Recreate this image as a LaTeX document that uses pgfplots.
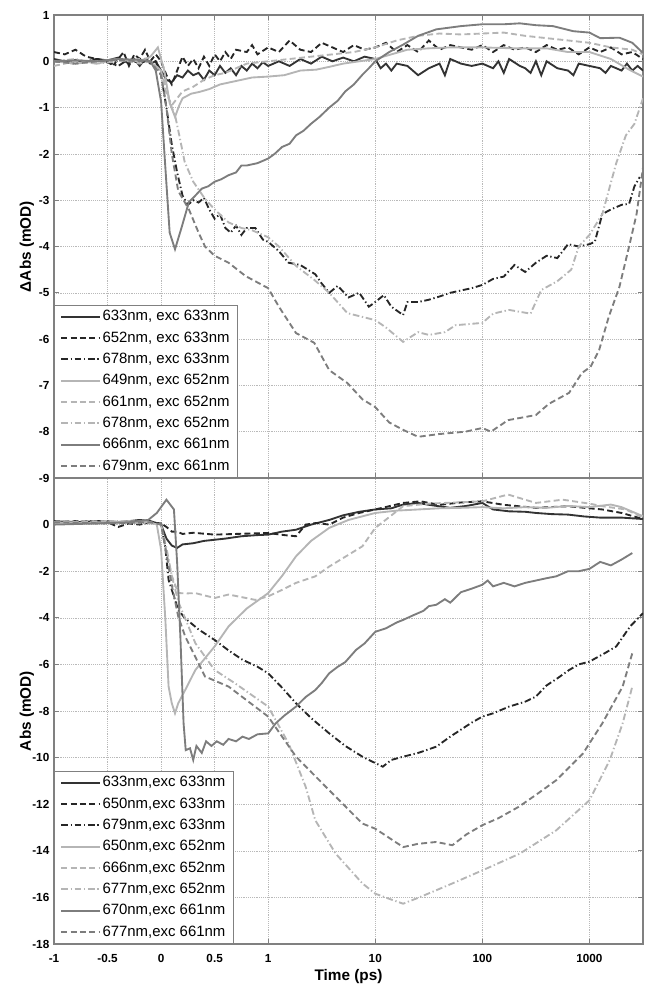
\documentclass[border=0pt]{standalone}
\usepackage{fontspec}
\setmainfont{Liberation Sans}
\usepackage{pgfplots}
\pgfplotsset{compat=1.18}

\definecolor{cDark}{HTML}{333333}
\definecolor{cDarkB}{HTML}{262626}
\definecolor{cLight}{HTML}{B5B5B5}
\definecolor{cMid}{HTML}{7D7D7D}
\definecolor{cFrame}{HTML}{808080}

\pgfplotsset{
  panel/.style={
    scale only axis, width=441.75pt,
    xmin=-1, xmax=4.5,
    xtick={-1,-0.5,0,0.5,1,2,3,4},
    axis line style={cFrame, line width=0.8pt},
    every tick/.style={cFrame, line width=0.6pt},
    major tick length=3.5pt,
    grid=major, major grid style={densely dotted, gray!55, line width=0.4pt},
    tick label style={font=\fontsize{8.8}{10}\selectfont\bfseries, text=black},
    xticklabel style={yshift=-4.5pt},
    label style={font=\fontsize{11.5}{13}\selectfont\bfseries},
    ylabel style={at={(axis description cs:-0.0458,0.5)}, anchor=center},
    legend style={at={(0,0)}, anchor=south west, draw=cFrame, line width=0.6pt,
      fill=white, font=\fontsize{11.2}{13}\selectfont, cells={anchor=west},
      row sep=2.6pt, inner xsep=4.5pt,
      /tikz/every even column/.append style={column sep=3.5pt},
      nodes={inner sep=1.2pt, text height=8.5pt, text depth=2.5pt}},
    legend image code/.code={\draw[#1] (0pt,0pt) -- (29pt,0pt);},
  },
  sD/.style={cDark, line width=1.4pt},
  dD/.style={cDarkB, line width=1.4pt, dash pattern=on 4.5pt off 2.5pt},
  ddD/.style={cDarkB, line width=1.4pt, dash pattern=on 5pt off 2pt on 1pt off 2pt},
  sL/.style={cLight, line width=1.4pt},
  dL/.style={cLight, line width=1.4pt, dash pattern=on 4.5pt off 2.5pt},
  ddL/.style={cLight, line width=1.4pt, dash pattern=on 5pt off 2pt on 1pt off 2pt},
  sM/.style={cMid, line width=1.4pt},
  dM/.style={cMid, line width=1.4pt, dash pattern=on 4.5pt off 2.5pt},
}

\begin{document}
\begin{tikzpicture}
\useasboundingbox (0,0) rectangle (483.75pt,-739.5pt);

% upper panel, x in "time" units: linear up to 1 ps, one unit per decade beyond
\begin{axis}[panel, at={(40.5pt,-11.25pt)}, anchor=north west, height=347.25pt,
    ymin=-9, ymax=1, ytick={-9,-8,-7,-6,-5,-4,-3,-2,-1,0,1},
    yticklabels={-9,-8,-7,-6,-5,-4,-3,-2,-1,0,1},
    xticklabels={}, ylabel={ΔAbs (mOD)}]
\addplot[sD] coordinates {(-1,0.05) (-0.9,0.0) (-0.8,0.03) (-0.7,-0.02) (-0.6,0.05) (-0.5,0.02) (-0.4,0.08) (-0.3,-0.05) (-0.25,0.05) (-0.2,-0.1) (-0.15,0.05) (-0.1,-0.05) (-0.05,0.0) (0,-0.2) (0.05,-0.4) (0.1,-0.45) (0.15,-0.3) (0.2,-0.35) (0.25,-0.2) (0.3,-0.3) (0.35,-0.25) (0.4,-0.4) (0.45,-0.2) (0.5,-0.3) (0.55,-0.1) (0.6,-0.25) (0.65,-0.15) (0.7,-0.3) (0.75,-0.1) (0.8,-0.2) (0.85,-0.05) (0.9,-0.15) (0.95,-0.02) (1,-0.1) (1.1,0.0) (1.2,-0.1) (1.3,0.05) (1.4,-0.05) (1.5,0.1) (1.6,0.0) (1.7,0.08) (1.8,0.0) (1.9,0.1) (2,0.05) (2.05,-0.15) (2.1,-0.05) (2.15,-0.2) (2.2,-0.05) (2.3,-0.1) (2.4,-0.3) (2.5,-0.15) (2.6,-0.05) (2.65,-0.3) (2.7,0.05) (2.8,-0.05) (2.9,-0.1) (3.0,-0.05) (3.1,-0.15) (3.15,0.0) (3.2,-0.25) (3.25,0.05) (3.35,-0.1) (3.4,-0.15) (3.45,-0.25) (3.5,0.0) (3.55,-0.3) (3.6,0.0) (3.7,-0.15) (3.8,-0.2) (3.85,-0.3) (3.9,-0.05) (4.0,-0.1) (4.1,-0.15) (4.15,-0.25) (4.2,-0.1) (4.3,-0.2) (4.35,-0.05) (4.4,-0.2) (4.45,-0.1) (4.5,-0.2)};
\addlegendentry{633nm, exc 633nm}
\addplot[dD] coordinates {(-1,0.2) (-0.9,0.15) (-0.8,0.25) (-0.7,0.1) (-0.6,0.05) (-0.5,0.0) (-0.45,-0.1) (-0.4,0.05) (-0.35,0.2) (-0.3,-0.1) (-0.25,0.15) (-0.2,0.05) (-0.15,0.25) (-0.1,0.0) (-0.05,0.15) (0,0.0) (0.05,-0.3) (0.1,-0.5) (0.15,-0.2) (0.2,0.1) (0.25,-0.1) (0.3,0.05) (0.35,-0.15) (0.4,0.1) (0.45,-0.1) (0.5,0.15) (0.55,0.0) (0.6,0.2) (0.65,0.05) (0.7,0.25) (0.8,0.2) (0.85,0.35) (0.9,0.15) (1,0.3) (1.1,0.2) (1.2,0.45) (1.3,0.25) (1.4,0.2) (1.5,0.4) (1.6,0.3) (1.7,0.2) (1.8,0.35) (1.9,0.25) (2.0,0.3) (2.1,0.4) (2.2,0.2) (2.3,0.35) (2.4,0.2) (2.5,0.45) (2.6,0.25) (2.7,0.35) (2.8,0.3) (2.9,0.25) (3.0,0.35) (3.1,0.2) (3.2,0.35) (3.3,0.25) (3.4,0.3) (3.5,0.2) (3.6,0.35) (3.7,0.25) (3.8,0.3) (3.9,0.15) (4.0,0.3) (4.1,0.2) (4.2,0.3) (4.3,0.15) (4.4,0.2) (4.5,0.05)};
\addlegendentry{652nm, exc 633nm}
\addplot[ddD] coordinates {(-1,0.0) (-0.8,-0.05) (-0.6,0.05) (-0.4,-0.1) (-0.3,0.05) (-0.2,-0.05) (-0.1,0.05) (-0.05,0.0) (0,-0.3) (0.05,-1.0) (0.1,-1.8) (0.15,-2.4) (0.2,-2.9) (0.25,-3.1) (0.3,-3.0) (0.35,-3.05) (0.4,-2.95) (0.45,-3.2) (0.5,-3.4) (0.55,-3.3) (0.6,-3.6) (0.65,-3.7) (0.7,-3.55) (0.75,-3.75) (0.8,-3.6) (0.88,-3.6) (0.95,-3.85) (1.0,-3.9) (1.1,-4.1) (1.19,-4.35) (1.3,-4.4) (1.44,-4.6) (1.5,-4.8) (1.57,-5.0) (1.65,-4.85) (1.75,-5.1) (1.85,-5.0) (1.94,-5.3) (2.0,-5.2) (2.08,-5.05) (2.15,-5.3) (2.26,-5.48) (2.3,-5.2) (2.4,-5.2) (2.5,-5.15) (2.6,-5.08) (2.7,-5.0) (2.8,-4.95) (2.9,-4.9) (3.0,-4.83) (3.1,-4.7) (3.2,-4.65) (3.3,-4.4) (3.4,-4.55) (3.5,-4.35) (3.6,-4.2) (3.7,-4.25) (3.8,-3.95) (3.9,-4.0) (4.0,-3.95) (4.05,-3.9) (4.12,-3.3) (4.2,-3.2) (4.3,-3.1) (4.37,-3.08) (4.42,-2.7) (4.47,-2.5)};
\addlegendentry{678nm, exc 633nm}
\addplot[sL] coordinates {(-1,0.0) (-0.8,-0.05) (-0.6,0.0) (-0.4,0.05) (-0.2,0.0) (-0.1,0.1) (-0.03,0.3) (0.03,-0.2) (0.08,-0.9) (0.13,-1.2) (0.17,-0.95) (0.2,-0.8) (0.28,-0.7) (0.36,-0.66) (0.45,-0.6) (0.55,-0.5) (0.65,-0.45) (0.75,-0.4) (0.85,-0.35) (1.0,-0.33) (1.15,-0.3) (1.3,-0.2) (1.45,-0.18) (1.57,-0.12) (1.7,-0.05) (1.85,0.0) (2.0,0.05) (2.15,0.15) (2.3,0.25) (2.5,0.28) (2.7,0.3) (3.0,0.3) (3.3,0.28) (3.6,0.28) (3.8,0.2) (4.0,0.2) (4.2,0.05) (4.37,-0.18) (4.5,-0.33)};
\addlegendentry{649nm, exc 652nm}
\addplot[dL] coordinates {(-1,-0.1) (-0.8,0.0) (-0.6,-0.05) (-0.4,0.05) (-0.2,-0.05) (-0.1,0.0) (0,-0.2) (0.05,-0.7) (0.1,-0.95) (0.15,-0.8) (0.2,-0.65) (0.3,-0.55) (0.4,-0.4) (0.5,-0.3) (0.6,-0.25) (0.7,-0.15) (0.8,-0.05) (1.0,0.0) (1.2,0.05) (1.4,0.1) (1.6,0.15) (1.8,0.2) (2.0,0.3) (2.2,0.45) (2.4,0.55) (2.6,0.6) (2.8,0.58) (3.0,0.6) (3.2,0.62) (3.4,0.55) (3.6,0.5) (3.8,0.45) (4.0,0.4) (4.2,0.3) (4.4,0.25) (4.5,0.15)};
\addlegendentry{661nm, exc 652nm}
\addplot[ddL] coordinates {(-1,0.0) (-0.8,0.05) (-0.6,-0.05) (-0.4,0.0) (-0.2,0.05) (-0.1,0.0) (0,-0.2) (0.05,-0.6) (0.1,-1.0) (0.13,-1.16) (0.17,-1.6) (0.22,-2.17) (0.3,-2.6) (0.41,-2.97) (0.5,-3.2) (0.63,-3.48) (0.75,-3.6) (0.85,-3.65) (1.0,-3.8) (1.1,-4.0) (1.26,-4.42) (1.43,-4.72) (1.57,-5.0) (1.74,-5.44) (2.0,-5.59) (2.1,-5.75) (2.26,-6.06) (2.4,-5.85) (2.5,-5.91) (2.65,-5.85) (2.75,-5.7) (3.0,-5.65) (3.1,-5.45) (3.25,-5.37) (3.45,-5.45) (3.55,-4.94) (3.7,-4.75) (3.83,-4.5) (3.9,-4.0) (4.0,-3.75) (4.12,-3.3) (4.25,-2.2) (4.34,-1.6) (4.42,-1.35) (4.5,-0.8)};
\addlegendentry{678nm, exc 652nm}
\addplot[sM] coordinates {(-1,0.0) (-0.8,0.02) (-0.6,0.0) (-0.4,0.05) (-0.2,0.03) (-0.1,0.0) (-0.05,-0.2) (0,-0.87) (0.04,-2.3) (0.08,-3.7) (0.13,-4.06) (0.19,-3.6) (0.26,-3.04) (0.32,-2.9) (0.38,-2.75) (0.44,-2.7) (0.5,-2.6) (0.56,-2.55) (0.63,-2.46) (0.7,-2.4) (0.75,-2.25) (0.8,-2.25) (0.9,-2.2) (1.0,-2.1) (1.06,-2.0) (1.13,-1.85) (1.2,-1.78) (1.26,-1.6) (1.33,-1.5) (1.4,-1.35) (1.48,-1.2) (1.57,-1.0) (1.65,-0.85) (1.72,-0.65) (1.8,-0.5) (1.88,-0.29) (1.94,-0.15) (2.0,0.0) (2.13,0.2) (2.26,0.36) (2.4,0.55) (2.57,0.69) (2.8,0.76) (3.0,0.8) (3.2,0.8) (3.35,0.82) (3.5,0.78) (3.66,0.76) (3.85,0.65) (4.0,0.62) (4.1,0.5) (4.28,0.51) (4.4,0.4) (4.5,0.18)};
\addlegendentry{666nm, exc 661nm}
\addplot[dM] coordinates {(-1,0.0) (-0.8,-0.05) (-0.6,0.0) (-0.4,0.03) (-0.2,0.0) (-0.1,0.0) (0,-0.3) (0.05,-1.0) (0.1,-2.0) (0.16,-2.8) (0.26,-3.2) (0.35,-3.7) (0.41,-4.0) (0.5,-4.2) (0.63,-4.35) (0.79,-4.64) (1.0,-4.9) (1.1,-5.3) (1.26,-5.87) (1.43,-6.08) (1.57,-6.67) (1.74,-6.95) (1.88,-7.3) (2.0,-7.47) (2.13,-7.8) (2.26,-7.96) (2.4,-8.11) (2.6,-8.05) (2.84,-8.0) (3.0,-7.92) (3.08,-8.0) (3.24,-7.75) (3.5,-7.64) (3.62,-7.4) (3.81,-7.16) (3.93,-6.73) (4.01,-6.6) (4.09,-6.24) (4.18,-5.52) (4.28,-4.87) (4.37,-4.0) (4.44,-3.3) (4.5,-2.3)};
\addlegendentry{679nm, exc 661nm}
\end{axis}

% lower panel
\begin{axis}[panel, at={(40.5pt,-358.5pt)}, anchor=north west, height=349.5pt,
    ymin=-18, ymax=2, ytick={-18,-16,-14,-12,-10,-8,-6,-4,-2,0},
    yticklabels={-18,-16,-14,-12,-10,-8,-6,-4,-2,0},
    xticklabels={-1,-0.5,0,0.5,1,10,100,1000},
    xtick pos=bottom,
    xlabel={Time (ps)}, ylabel={Abs (mOD)},
    xlabel style={at={(axis description cs:0.5,0)}, anchor=center, yshift=-24.75pt}]
\addplot[sD] coordinates {(-1,0.15) (-0.8,0.1) (-0.6,0.15) (-0.4,0.1) (-0.2,0.2) (-0.1,0.15) (0,0.0) (0.05,-0.6) (0.1,-0.9) (0.15,-1.0) (0.2,-0.85) (0.3,-0.8) (0.4,-0.7) (0.5,-0.65) (0.6,-0.6) (0.75,-0.5) (0.9,-0.45) (1.0,-0.43) (1.13,-0.3) (1.26,-0.22) (1.4,0.0) (1.57,0.2) (1.7,0.4) (1.85,0.55) (2.0,0.65) (2.15,0.7) (2.26,0.86) (2.4,0.93) (2.5,0.85) (2.7,0.72) (2.85,0.8) (3.0,0.93) (3.1,0.65) (3.25,0.57) (3.4,0.55) (3.5,0.5) (3.65,0.45) (3.8,0.43) (3.95,0.35) (4.1,0.3) (4.3,0.3) (4.5,0.24)};
\addlegendentry{633nm,exc 633nm}
\addplot[dD] coordinates {(-1,0.1) (-0.8,0.15) (-0.6,0.05) (-0.5,0.1) (-0.4,-0.1) (-0.3,0.05) (-0.2,0.0) (-0.1,0.1) (0,0.05) (0.05,-0.1) (0.1,-0.3) (0.15,-0.3) (0.2,-0.4) (0.3,-0.35) (0.5,-0.43) (0.7,-0.4) (1.0,-0.36) (1.15,-0.45) (1.26,-0.5) (1.35,0.0) (1.45,0.07) (1.57,0.0) (1.7,0.3) (1.85,0.5) (2.0,0.65) (2.26,0.93) (2.42,1.0) (2.6,0.85) (2.8,0.95) (3.0,1.0) (3.2,0.85) (3.5,0.72) (3.8,0.79) (4.0,0.7) (4.12,0.65) (4.3,0.5) (4.5,0.24)};
\addlegendentry{650nm,exc 633nm}
\addplot[ddD] coordinates {(-1,0.1) (-0.6,0.15) (-0.2,0.1) (0,0.05) (0.04,-1.0) (0.07,-2.37) (0.16,-3.66) (0.22,-4.0) (0.35,-4.5) (0.5,-4.95) (0.63,-5.4) (0.76,-5.8) (0.9,-6.1) (1.0,-6.38) (1.13,-7.0) (1.26,-7.67) (1.4,-8.3) (1.57,-8.96) (1.72,-9.5) (1.88,-9.96) (1.94,-10.1) (2.07,-10.39) (2.15,-10.1) (2.26,-9.96) (2.4,-9.8) (2.57,-9.53) (2.7,-9.1) (2.8,-8.8) (2.9,-8.5) (3.0,-8.24) (3.1,-8.1) (3.25,-7.81) (3.4,-7.6) (3.5,-7.38) (3.6,-6.9) (3.7,-6.6) (3.81,-6.24) (3.9,-6.0) (4.0,-5.88) (4.15,-5.5) (4.25,-5.23) (4.38,-4.37) (4.5,-3.8)};
\addlegendentry{679nm,exc 633nm}
\addplot[sL] coordinates {(-1,0.1) (-0.6,0.05) (-0.3,0.15) (-0.1,0.1) (-0.04,0.0) (0.0,-1.08) (0.04,-4.09) (0.07,-6.95) (0.1,-7.67) (0.13,-8.1) (0.16,-7.67) (0.225,-7.1) (0.32,-6.24) (0.5,-5.23) (0.63,-4.37) (0.8,-3.6) (1.0,-2.94) (1.13,-2.2) (1.26,-1.36) (1.4,-0.7) (1.57,-0.14) (1.75,0.2) (2.0,0.5) (2.2,0.6) (2.4,0.65) (2.6,0.7) (2.8,0.72) (3.0,0.75) (3.2,0.7) (3.4,0.75) (3.6,0.72) (3.8,0.8) (4.0,0.75) (4.2,0.86) (4.3,0.75) (4.5,0.36)};
\addlegendentry{650nm,exc 652nm}
\addplot[dL] coordinates {(-1,0.1) (-0.5,0.15) (-0.1,0.1) (0.0,0.0) (0.05,-1.2) (0.1,-2.2) (0.16,-2.94) (0.25,-2.95) (0.32,-2.94) (0.5,-3.15) (0.63,-3.0) (0.88,-3.23) (1.0,-3.08) (1.13,-2.8) (1.26,-2.5) (1.44,-2.22) (1.57,-1.8) (1.88,-0.93) (2.0,-0.14) (2.06,0.07) (2.26,0.79) (2.5,0.9) (3.0,1.0) (3.24,1.29) (3.5,0.93) (3.75,1.07) (4.0,0.9) (4.12,0.79) (4.34,0.65) (4.5,0.3)};
\addlegendentry{666nm,exc 652nm}
\addplot[ddL] coordinates {(-1,0.1) (-0.5,0.1) (-0.1,0.05) (0,0.0) (0.05,-1.0) (0.1,-2.2) (0.16,-3.3) (0.32,-5.09) (0.5,-6.24) (0.69,-6.81) (1.0,-7.81) (1.19,-9.39) (1.35,-11.25) (1.44,-12.69) (1.63,-14.12) (1.88,-15.4) (2.0,-15.84) (2.13,-16.06) (2.26,-16.27) (2.41,-16.0) (2.72,-15.4) (3.0,-14.84) (3.35,-14.12) (3.69,-13.12) (4.0,-11.83) (4.19,-10.1) (4.31,-8.53) (4.4,-6.95)};
\addlegendentry{677nm,exc 652nm}
\addplot[sM] coordinates {(-1,0.0) (-0.6,0.05) (-0.3,0.1) (-0.12,0.2) (-0.04,0.5) (0.05,1.07) (0.12,0.65) (0.15,-1.65) (0.18,-4.8) (0.21,-8.53) (0.23,-9.68) (0.27,-9.6) (0.3,-10.1) (0.33,-9.5) (0.38,-9.8) (0.42,-9.3) (0.47,-9.5) (0.52,-9.3) (0.58,-9.45) (0.63,-9.2) (0.7,-9.3) (0.76,-9.1) (0.82,-9.2) (0.9,-9.0) (1.0,-8.96) (1.07,-8.53) (1.15,-8.2) (1.26,-7.81) (1.35,-7.4) (1.44,-7.1) (1.5,-6.8) (1.57,-6.38) (1.65,-6.1) (1.72,-5.9) (1.82,-5.38) (1.9,-5.1) (2.0,-4.6) (2.1,-4.45) (2.2,-4.2) (2.26,-4.09) (2.35,-3.9) (2.45,-3.7) (2.5,-3.5) (2.57,-3.44) (2.65,-3.2) (2.7,-3.35) (2.8,-2.9) (2.9,-2.75) (3.0,-2.58) (3.05,-2.4) (3.1,-2.65) (3.2,-2.5) (3.3,-2.65) (3.4,-2.5) (3.5,-2.4) (3.6,-2.3) (3.69,-2.22) (3.8,-2.0) (3.9,-2.0) (4.0,-1.9) (4.1,-1.6) (4.2,-1.75) (4.3,-1.5) (4.4,-1.22)};
\addlegendentry{670nm,exc 661nm}
\addplot[dM] coordinates {(-1,0.1) (-0.5,0.05) (-0.1,0.1) (0,0.0) (0.04,-1.0) (0.1,-2.6) (0.16,-3.94) (0.225,-4.8) (0.41,-6.52) (0.63,-6.95) (1.0,-8.24) (1.26,-9.96) (1.57,-11.4) (1.88,-12.83) (2.0,-13.05) (2.26,-13.84) (2.4,-13.7) (2.57,-13.62) (2.72,-13.76) (2.85,-13.3) (3.0,-12.9) (3.15,-12.6) (3.34,-12.11) (3.5,-11.6) (3.69,-10.97) (3.94,-9.82) (4.12,-8.53) (4.31,-6.95) (4.4,-5.52)};
\addlegendentry{677nm,exc 661nm}
\end{axis}
\end{tikzpicture}
\end{document}
